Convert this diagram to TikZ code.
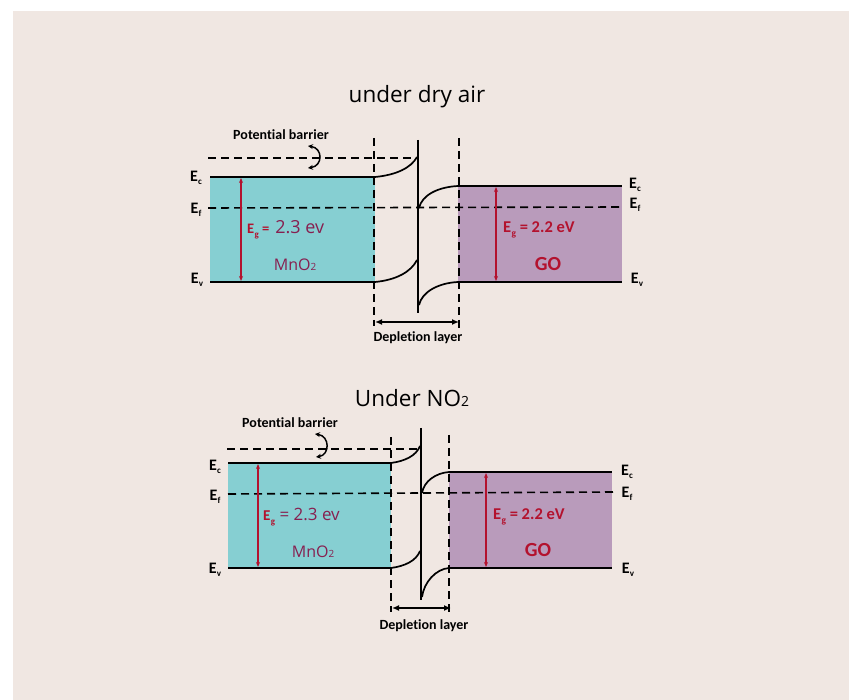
\documentclass[tikz,border=0pt]{standalone}
\usepackage{fontspec}
\setmainfont{Carlito}[Ligatures=NoCommon]
\newfontfamily\titlefont{Open Sans}
\usetikzlibrary{arrows.meta}

\definecolor{paper}{HTML}{F0E7E2}
\definecolor{mnofill}{HTML}{86CFD2}
\definecolor{gofill}{HTML}{B99BBB}
\definecolor{gapred}{HTML}{B3122E}
\definecolor{winered}{HTML}{862050}

% band-edge label: bold E with a small subscript
\newcommand{\bandlab}[1]{\textbf{E\kern0.2pt\raisebox{-0.45ex}{\fontsize{9}{9}\selectfont #1}}}
% subscript-free small digit used in chemical formulae
\newcommand{\smalldigit}[1]{{\fontsize{0.62em}{1em}\selectfont #1}}

\tikzset{
  bandline/.style={line width=1.9pt, line cap=butt},
  dashlevel/.style={line width=1.6pt, dash pattern=on 8pt off 5pt},
  depedge/.style={line width=1.6pt, dash pattern=on 8pt off 5pt},
  junctionline/.style={line width=1.7pt},
  bandbend/.style={line width=1.7pt},
  gaparrow/.style={line width=1.4pt, gapred, {Stealth[length=5pt,width=4pt]}-{Stealth[length=5pt,width=4pt]}},
  widtharrow/.style={line width=2.2pt, {Latex[length=7pt,width=6pt]}-{Latex[length=7pt,width=6pt]}},
  barrierarrow/.style={line width=1.5pt, {Stealth[length=5pt,width=5pt]}-{Stealth[length=5pt,width=5pt]}},
  edgelab/.style={font=\fontsize{16}{16}\selectfont, inner sep=0pt},
  smalllab/.style={font=\fontsize{14}{14}\selectfont\bfseries, inner sep=0pt},
  headline/.style={font=\titlefont\fontsize{22.5}{24}\selectfont, inner sep=0pt},
}

\begin{document}
\begin{tikzpicture}[x=1pt,y=-1pt]
\useasboundingbox (0,0) rectangle (849,700);
\fill[white] (0,0) rectangle (849,700);
\fill[paper] (13,11) rectangle (849,700);

% ================= under dry air =================
\node[headline] (t1) at (417,97) {under dry air};

\fill[mnofill] (210,177) rectangle (375,282);
\fill[gofill] (458,186) rectangle (622,282);

\coordinate (a1L) at (208,158);
\coordinate (a1R) at (414,158);
\draw[dashlevel] (a1L) -- (a1R);
\node[smalllab] (pb1) at (281,135) {Potential barrier};
\coordinate (pb1s) at (308,146);
\coordinate (pb1e) at (308,168);
\draw[barrierarrow] (pb1s) .. controls (323,148) and (323,166) .. (pb1e);

% MnO2 band edges
\coordinate (ec1a) at (210,177); \coordinate (ec1b) at (375,177);
\coordinate (ev1a) at (210,282); \coordinate (ev1b) at (375,282);
\draw[bandline] (ec1a) -- (ec1b);
\draw[bandline] (ev1a) -- (ev1b);
% GO band edges
\coordinate (ec1c) at (458,186); \coordinate (ec1d) at (622,186);
\coordinate (ev1c) at (458,282); \coordinate (ev1d) at (622,282);
\draw[bandline] (ec1c) -- (ec1d);
\draw[bandline] (ev1c) -- (ev1d);
% Fermi level
\coordinate (ef1a) at (208,208); \coordinate (ef1b) at (622,207);
\draw[dashlevel] (ef1a) -- (ef1b);

% depletion region
\coordinate (d1lt) at (374,138); \coordinate (d1lb) at (374,326);
\coordinate (d1rt) at (459,138); \coordinate (d1rb) at (459,328);
\draw[depedge] (d1lt) -- (d1lb);
\draw[depedge] (d1rt) -- (d1rb);
\coordinate (j1t) at (418,140); \coordinate (j1b) at (418,313);
\draw[junctionline] (j1t) -- (j1b);

% band bending
\draw[bandbend] (ec1b) .. controls (396,175) and (411,168) .. (417,157);
\draw[bandbend] (ev1b) .. controls (396,280) and (411,272) .. (417,260);
\draw[bandbend] (419,208) .. controls (422,195) and (438,187) .. (ec1c);
\draw[bandbend] (419,305) .. controls (422,292) and (438,283) .. (ev1c);

\coordinate (w1a) at (375,322); \coordinate (w1b) at (459,322);
\draw[widtharrow] (w1a) -- (w1b);
\node[smalllab] (dl1) at (418,338) {Depletion layer};

% labels
\node[edgelab] (lec1) at (196,178) {\bandlab{c}};
\node[edgelab] (lef1) at (196,210) {\bandlab{f}};
\node[edgelab] (lev1) at (197,280) {\bandlab{v}};
\node[edgelab] (rec1) at (635,185) {\bandlab{c}};
\node[edgelab] (ref1) at (635,205) {\bandlab{f}};
\node[edgelab] (rev1) at (637,280) {\bandlab{v}};

% band gaps
\coordinate (g1a) at (241,178); \coordinate (g1b) at (241,281);
\draw[gaparrow] (g1a) -- (g1b);
\node[inner sep=0pt, anchor=west] (eg1) at (247,230)
  {\textcolor{gapred}{\fontsize{14.5}{14.5}\selectfont\bfseries E\kern0.3pt\raisebox{-0.5ex}{\fontsize{9}{9}\selectfont g} =}%
   \hspace{6pt}\textcolor{winered}{\titlefont\fontsize{18}{18}\selectfont 2.3 ev}};
\node[inner sep=0pt, text=winered, font=\titlefont\fontsize{16}{16}\selectfont] (m1) at (295,265) {MnO\smalldigit{2}};

\coordinate (g2a) at (496,187); \coordinate (g2b) at (496,281);
\draw[gaparrow] (g2a) -- (g2b);
\node[inner sep=0pt, anchor=west, text=gapred, font=\fontsize{16.5}{16.5}\selectfont\bfseries] (eg2) at (503,230)
  {E\kern0.3pt\raisebox{-0.5ex}{\fontsize{9.5}{9.5}\selectfont g} = 2.2 eV};
\node[inner sep=0pt, text=gapred, font=\fontsize{20}{20}\selectfont\bfseries] (go1) at (548,264) {GO};

% ================= under NO2 =================
\node[headline] (t2) at (412,398) {Under NO\smalldigit{2}};

\fill[mnofill] (228,463) rectangle (391,568);
\fill[gofill] (449,472) rectangle (612,568);

\coordinate (a2L) at (227,449);
\coordinate (a2R) at (419,449);
\draw[dashlevel] (a2L) -- (a2R);
\node[smalllab] (pb2) at (290,423) {Potential barrier};
\coordinate (pb2s) at (315,434);
\coordinate (pb2e) at (316,457);
\draw[barrierarrow] (pb2s) .. controls (330,436) and (330,455) .. (pb2e);

\coordinate (ec2a) at (228,463); \coordinate (ec2b) at (391,463);
\coordinate (ev2a) at (228,568); \coordinate (ev2b) at (391,568);
\draw[bandline] (ec2a) -- (ec2b);
\draw[bandline] (ev2a) -- (ev2b);
\coordinate (ec2c) at (449,472); \coordinate (ec2d) at (612,472);
\coordinate (ev2c) at (449,568); \coordinate (ev2d) at (612,568);
\draw[bandline] (ec2c) -- (ec2d);
\draw[bandline] (ev2c) -- (ev2d);
\coordinate (ef2a) at (228,494); \coordinate (ef2b) at (614,492);
\draw[dashlevel] (ef2a) -- (ef2b);

\coordinate (d2lt) at (391,437); \coordinate (d2lb) at (391,612);
\coordinate (d2rt) at (449,435); \coordinate (d2rb) at (449,612);
\draw[depedge] (d2lt) -- (d2lb);
\draw[depedge] (d2rt) -- (d2rb);
\coordinate (j2t) at (421,428); \coordinate (j2b) at (421,600);
\draw[junctionline] (j2t) -- (j2b);

\draw[bandbend] (ec2b) .. controls (405,461) and (416,456) .. (420,446);
\draw[bandbend] (ev2b) .. controls (405,566) and (416,561) .. (420,551);
\draw[bandbend] (422,493) .. controls (424,481) and (436,473) .. (ec2c);
\draw[bandbend] (422,597) .. controls (424,582) and (436,569) .. (ev2c);

\coordinate (w2a) at (392,608); \coordinate (w2b) at (451,608);
\draw[widtharrow] (w2a) -- (w2b);
\node[smalllab] (dl2) at (424,626) {Depletion layer};

\node[edgelab] (lec2) at (215,467) {\bandlab{c}};
\node[edgelab] (lef2) at (215,497) {\bandlab{f}};
\node[edgelab] (lev2) at (215,570) {\bandlab{v}};
\node[edgelab] (rec2) at (627,472) {\bandlab{c}};
\node[edgelab] (ref2) at (627,494) {\bandlab{f}};
\node[edgelab] (rev2) at (628,570) {\bandlab{v}};

\coordinate (g3a) at (258,464); \coordinate (g3b) at (258,567);
\draw[gaparrow] (g3a) -- (g3b);
\node[inner sep=0pt, anchor=west] (eg3) at (263,517)
  {\textcolor{gapred}{\fontsize{15}{15}\selectfont\bfseries E\kern0.3pt\raisebox{-0.5ex}{\fontsize{9}{9}\selectfont g}}%
   \textcolor{winered}{\titlefont\fontsize{17}{17}\selectfont\ = 2.3 ev}};
\node[inner sep=0pt, text=winered, font=\titlefont\fontsize{16}{16}\selectfont] (m2) at (313,552) {MnO\smalldigit{2}};

\coordinate (g4a) at (486,473); \coordinate (g4b) at (486,567);
\draw[gaparrow] (g4a) -- (g4b);
\node[inner sep=0pt, anchor=west, text=gapred, font=\fontsize{16.5}{16.5}\selectfont\bfseries] (eg4) at (493,517)
  {E\kern0.3pt\raisebox{-0.5ex}{\fontsize{9.5}{9.5}\selectfont g} = 2.2 eV};
\node[inner sep=0pt, text=gapred, font=\fontsize{20}{20}\selectfont\bfseries] (go2) at (538,550) {GO};
\end{tikzpicture}
\end{document}
